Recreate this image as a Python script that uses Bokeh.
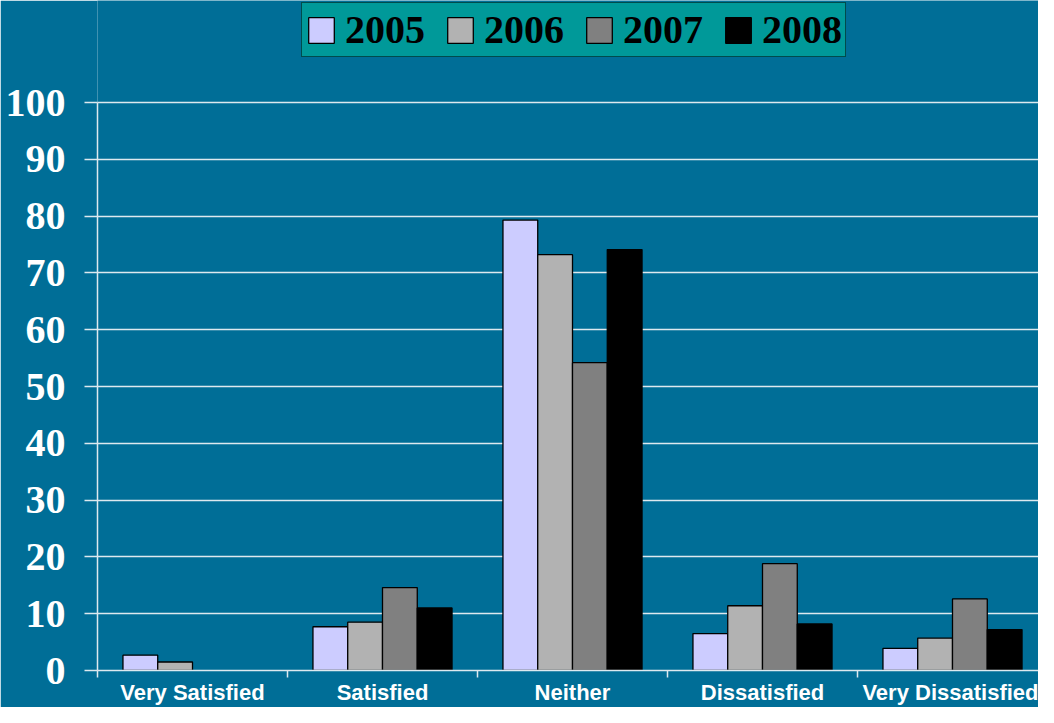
from bokeh.plotting import figure
from bokeh.models import ColumnDataSource, Range1d, FixedTicker, Legend, LegendItem
from bokeh.transform import dodge
from bokeh.embed import file_html
from bokeh.resources import INLINE

# ---- data ----
categories = ["Very Satisfied", "Satisfied", "Neither", "Dissatisfied", "Very Dissatisfied"]
years = ["2005", "2006", "2007", "2008"]
v2005 = [2.7, 7.7, 79.3, 6.5, 3.9]
v2006 = [1.5, 8.5, 73.2, 11.4, 5.7]
v2007 = [0.0, 14.6, 54.2, 18.8, 12.6]
v2008 = [0.0, 11.0, 74.1, 8.2, 7.2]
y_ticks = [0, 10, 20, 30, 40, 50, 60, 70, 80, 90, 100]

# ---- style ----
colors = ["#CCCCFF", "#B2B2B2", "#808080", "#000000"]
BG = "#006E97"
LIGHT = "#dde9ef"
W, H = 1038, 707
LEFT, BOTTOM = 97, 37
PX_PER_UNIT = 5.68
CAT_PX = 190.0
frame_w = W - LEFT
frame_h = H - BOTTOM

p = figure(width=W, height=H, output_backend="svg", toolbar_location=None,
           x_range=Range1d(0, frame_w / CAT_PX),
           y_range=Range1d(0, frame_h / PX_PER_UNIT),
           min_border_left=LEFT, min_border_right=0, min_border_top=0,
           min_border_bottom=BOTTOM,
           background_fill_color=BG, border_fill_color=BG, outline_line_color=None)

bar_w = 0.183
offsets = [-1.5, -0.5, 0.5, 1.5]
series = [v2005, v2006, v2007, v2008]
items = []
for yr, vals, col, off in zip(years, series, colors, offsets):
    xs = [i + 0.5 for i, v in enumerate(vals) if v > 0]
    tops = [v for v in vals if v > 0]
    src = ColumnDataSource(dict(x=xs, top=tops))
    r = p.vbar(x=dodge("x", off * bar_w), top="top", bottom=0, width=bar_w,
               source=src, fill_color=col, line_color="black", line_width=1.3)
    items.append(LegendItem(label=yr, renderers=[r]))

# ---- axes ----
xa = p.xaxis[0]
centers = [i + 0.5 for i in range(len(categories))]
xa.ticker = FixedTicker(ticks=centers, minor_ticks=list(range(len(categories))))
xa.major_label_overrides = {c: name for c, name in zip(centers, categories)}
xa.major_tick_line_color = None
xa.minor_tick_line_color = LIGHT
xa.minor_tick_out = 7
xa.minor_tick_in = 0
xa.minor_tick_line_width = 1.5
xa.axis_line_color = LIGHT
xa.axis_line_width = 1.5
xa.major_label_standoff = 2
xa.major_label_text_font = "Liberation Sans"
xa.major_label_text_font_style = "bold"
xa.major_label_text_font_size = "22px"
xa.major_label_text_color = "white"

ya = p.yaxis[0]
ya.ticker = FixedTicker(ticks=y_ticks)
ya.bounds = (0, 100)
ya.major_tick_out = 13
ya.major_tick_in = 0
ya.major_tick_line_color = LIGHT
ya.major_tick_line_width = 1.5
ya.minor_tick_line_color = None
ya.axis_line_color = LIGHT
ya.axis_line_width = 1.5
ya.major_label_standoff = 19
ya.major_label_text_font = "Liberation Serif"
ya.major_label_text_font_style = "bold"
ya.major_label_text_font_size = "40px"
ya.major_label_text_color = "white"

p.xgrid.grid_line_color = None
p.ygrid.grid_line_color = LIGHT
p.ygrid.grid_line_width = 1.5

# ---- legend ----
legend = Legend(items=items, location=(204, 613), orientation="horizontal",
                background_fill_color="#009999", background_fill_alpha=1.0,
                border_line_color="black", border_line_width=1.5,
                label_text_font="Liberation Serif", label_text_font_style="bold",
                label_text_font_size="40px", label_text_color="black",
                glyph_width=32, glyph_height=32, label_standoff=8,
                spacing=19, padding=3, margin=0)
p.add_layout(legend)

open("out.html", "w").write(file_html(p, INLINE))
